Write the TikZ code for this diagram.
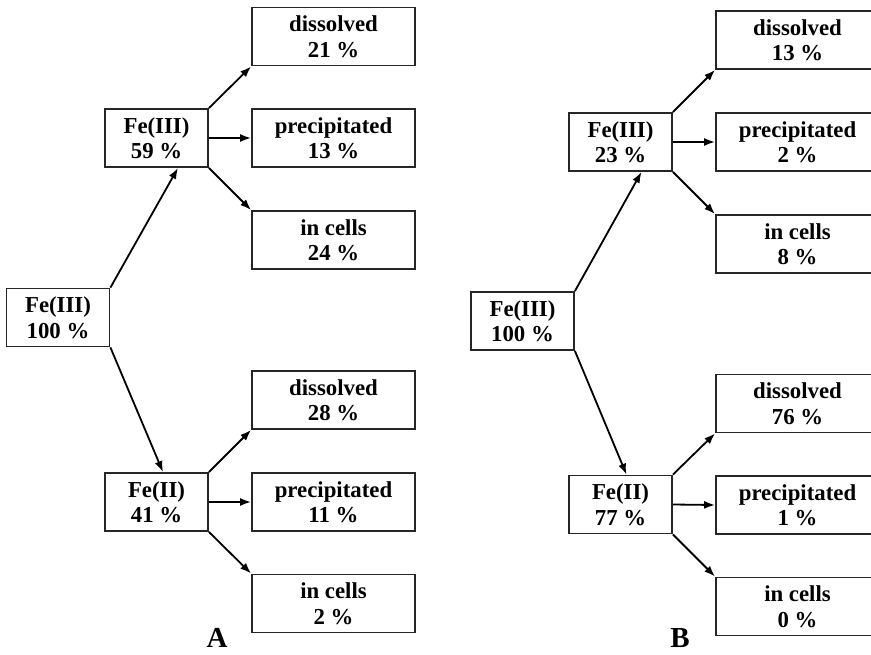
\documentclass[tikz,border=0pt]{standalone}
\usepackage{fontspec}
\setmainfont{Liberation Serif}
\usetikzlibrary{arrows.meta,calc}
\begin{document}
\begin{tikzpicture}[x=1pt,y=-1pt,
  box/.style={draw=black!85,line width=1.8pt,inner sep=0pt,align=center,
    font=\bfseries\fontsize{22.8}{25.5}\selectfont},
  small/.style={box,minimum width=103pt,minimum height=58pt},
  wide/.style={box,minimum width=163pt,minimum height=58pt},
  conn/.style={line width=1.8pt,-{Latex[length=11pt,width=8pt]}},
  panel/.style={font=\bfseries\fontsize{29}{32}\selectfont,inner sep=0pt}]
\clip (0,0) rectangle (871,654);
\fill[white] (0,0) rectangle (871,654);
% Panel A
\node[small] (rootA) at (58,317.5) {Fe(III)\\100 \%};
\node[small] (midA) at (156.5,138) {Fe(III)\\59 \%};
\node[wide] (dA) at (333.5,36.5) {dissolved\\21 \%};
\node[wide] (pA) at (333.5,138) {precipitated\\13 \%};
\node[wide] (cA) at (333.5,240) {in cells\\24 \%};
\node[small] (feA) at (156.5,502) {Fe(II)\\41 \%};
\node[wide] (d2A) at (333.5,400) {dissolved\\28 \%};
\node[wide] (p2A) at (333.5,502) {precipitated\\11 \%};
\node[wide] (c2A) at (333.5,603.5) {in cells\\2 \%};
\node[panel] (labA) at (217,638) {A};
\draw[conn] (rootA.north east) -- ($(midA.south)+(21.5,0)$);
\draw[conn] (rootA.south east) -- ($(feA.north)+(6.5,0)$);
\draw[conn] (midA.north east) -- (dA.south west);
\draw[conn] (midA.east) -- (pA.west);
\draw[conn] (midA.south east) -- (cA.north west);
\draw[conn] (feA.north east) -- (d2A.south west);
\draw[conn] (feA.east) -- (p2A.west);
\draw[conn] (feA.south east) -- (c2A.north west);
% Panel B
\node[small] (rootB) at (522.5,321) {Fe(III)\\100 \%};
\node[small] (midB) at (620.5,142) {Fe(III)\\23 \%};
\node[wide] (dB) at (797.5,40) {dissolved\\13 \%};
\node[wide] (pB) at (797.5,142) {precipitated\\2 \%};
\node[wide] (cB) at (797.5,244) {in cells\\8 \%};
\node[small] (feB) at (620.5,504.5) {Fe(II)\\77 \%};
\node[wide] (d2B) at (797.5,403.5) {dissolved\\76 \%};
\node[wide] (p2B) at (797.5,505) {precipitated\\1 \%};
\node[wide] (c2B) at (797.5,606.5) {in cells\\0 \%};
\node[panel] (labB) at (680,638) {B};
\draw[conn] (rootB.north east) -- ($(midB.south)+(21,0)$);
\draw[conn] (rootB.south east) -- ($(feB.north)+(6,0)$);
\draw[conn] (midB.north east) -- (dB.south west);
\draw[conn] (midB.east) -- (pB.west);
\draw[conn] (midB.south east) -- (cB.north west);
\draw[conn] (feB.north east) -- (d2B.south west);
\draw[conn] (feB.east) -- (p2B.west);
\draw[conn] (feB.south east) -- (c2B.north west);
\end{tikzpicture}
\end{document}
